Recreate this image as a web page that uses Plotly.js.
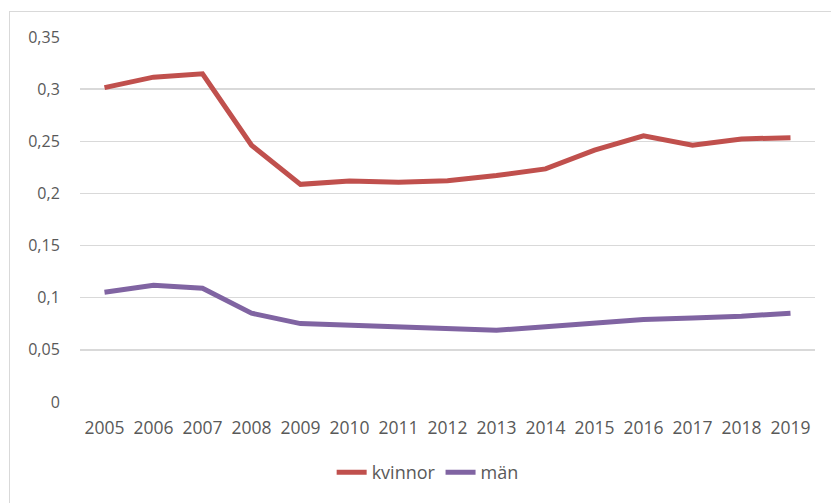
<!DOCTYPE html>
<html>
<head>
<meta charset="utf-8">
<script src="https://cdn.plot.ly/plotly-3.0.1.min.js"></script>
<style>
html, body { margin: 0; padding: 0; background: #ffffff; overflow: hidden; }
#frame { position: absolute; left: 9px; top: 11px; width: 900px; height: 600px; border: 1px solid #d9d9d9; }
#chart { position: absolute; left: 0; top: 0; width: 831px; height: 503px; }
</style>
</head>
<body>
<div id="frame"></div>
<div id="chart"></div>
<script>
const years = ["2005","2006","2007","2008","2009","2010","2011","2012","2013","2014","2015","2016","2017","2018","2019"];
const kvinnor = [0.3015,0.3115,0.3147,0.2462,0.2087,0.2118,0.2108,0.2122,0.2172,0.2235,0.2415,0.2552,0.2462,0.2522,0.2535];
const man = [0.1052,0.1120,0.1090,0.0852,0.0752,0.0738,0.0723,0.0704,0.0688,0.0722,0.0758,0.0790,0.0806,0.0822,0.0852];
const seriesNames = ["kvinnor","män"];
const yTicks = [0,0.05,0.1,0.15,0.2,0.25,0.3,0.35];

const font = {family: "Open Sans, sans-serif", size: 16, color: "#595959"};
const xFont = {family: "Open Sans, sans-serif", size: 17.5, color: "#595959"};
const legFont = {family: "Open Sans, sans-serif", size: 18, color: "#595959"};

const traces = [
  {x: years, y: kvinnor, name: seriesNames[0], type: "scatter", mode: "lines",
   line: {color: "#C0504D", width: 5}},
  {x: years, y: man, name: seriesNames[1], type: "scatter", mode: "lines",
   line: {color: "#8064A2", width: 5}}
];

const layout = {
  width: 831, height: 503,
  margin: {l: 80, r: 16, t: 37, b: 99, pad: 0},
  paper_bgcolor: "rgba(0,0,0,0)",
  plot_bgcolor: "rgba(0,0,0,0)",
  separators: ", ",
  font: font,
  showlegend: true,
  legend: {orientation: "h", x: 0.473, xanchor: "center", y: -0.193, yanchor: "middle",
           font: legFont, itemwidth: 30, bgcolor: "rgba(0,0,0,0)"},
  xaxis: {type: "category", showgrid: false, zeroline: false, showline: false,
          ticks: "outside", ticklen: 10, tickcolor: "rgba(0,0,0,0)", tickfont: xFont,
          range: [-0.5, 14.5], fixedrange: true},
  yaxis: {range: [0, 0.35], tickvals: yTicks, showgrid: true, gridcolor: "#d9d9d9", gridwidth: 1.3,
          zeroline: false, showline: false, ticks: "outside", ticklen: 16,
          tickcolor: "rgba(0,0,0,0)", tickfont: font, fixedrange: true}
};

Plotly.newPlot("chart", traces, layout, {displayModeBar: false, staticPlot: true});
</script>
</body>
</html>
